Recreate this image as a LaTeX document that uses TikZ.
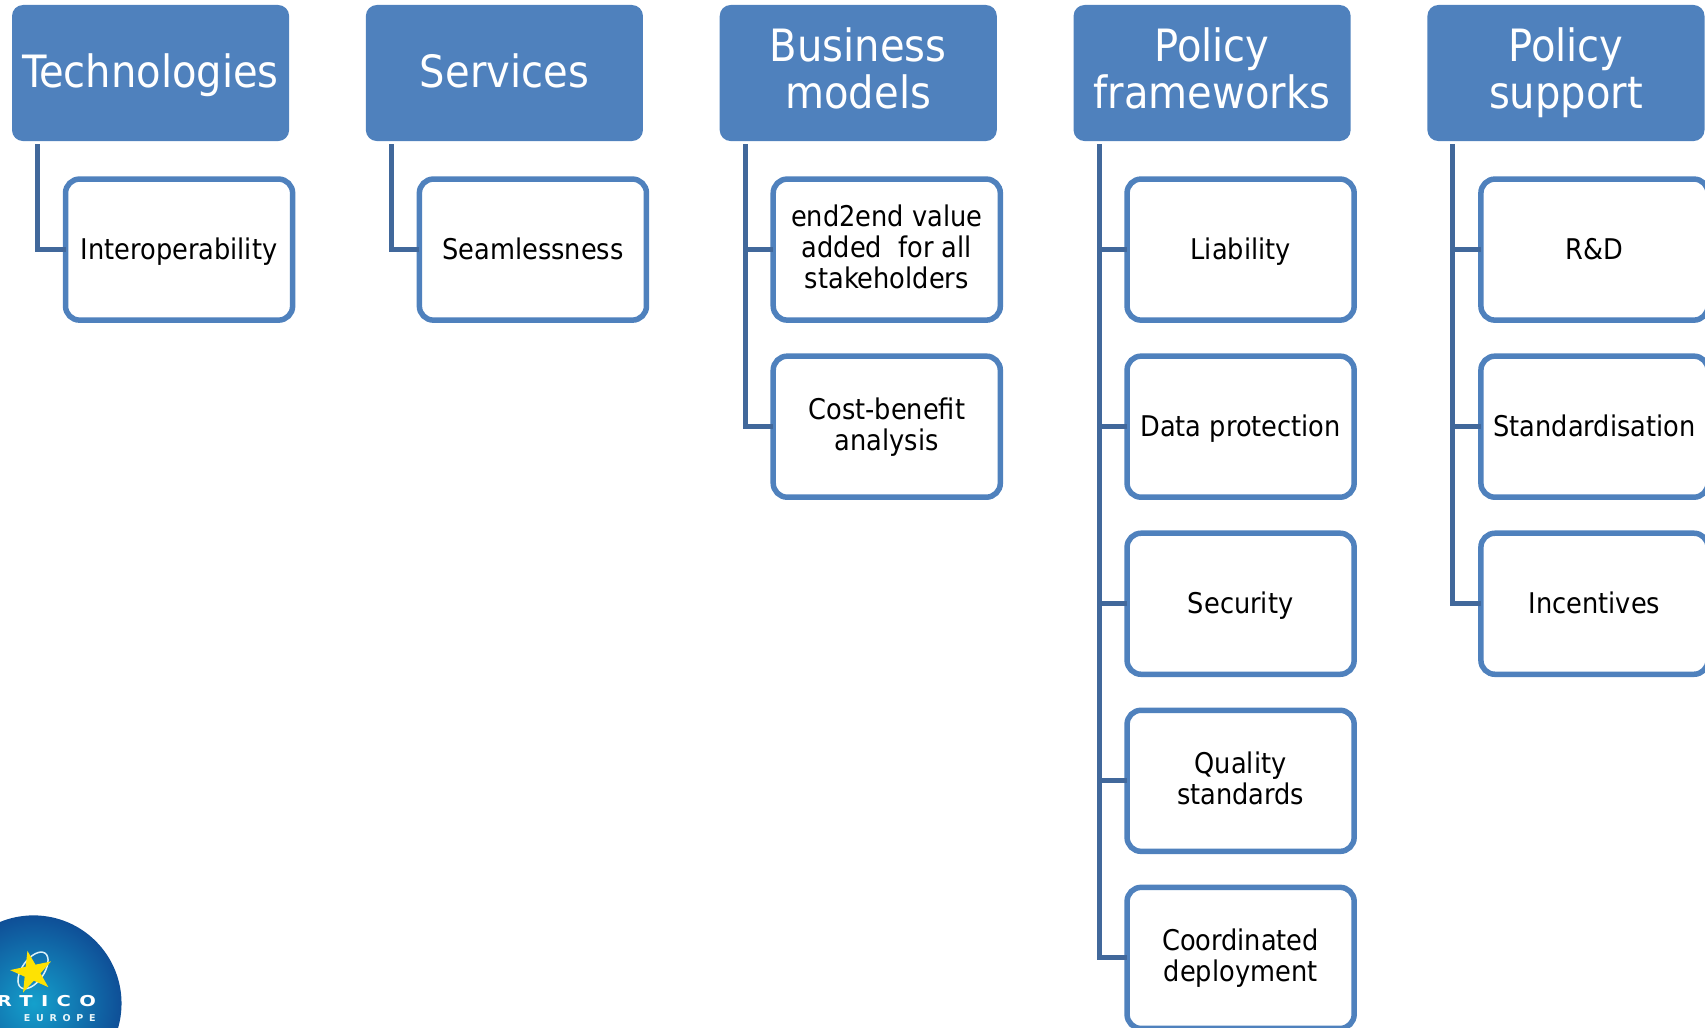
\documentclass[tikz,border=0pt]{standalone}
\usepackage{fontspec}
\setmainfont{DejaVu Sans Condensed}
\newfontfamily\logofont{DejaVu Sans}
\usetikzlibrary{shapes.geometric}

\definecolor{headblue}{HTML}{4F81BD}
\definecolor{spineblue}{HTML}{41689B}
\definecolor{logodark}{HTML}{0F4F97}
\definecolor{logocyan}{HTML}{14A0CC}

\tikzset{
  headbox/.style={rectangle, rounded corners=11, fill=headblue, text=white, align=center,
    minimum width=277, minimum height=136, font=\fontsize{44.5}{47}\selectfont,
    execute at begin node=\rule{0pt}{0.87em}, execute at end node=\vphantom{Ag}},
  headtwo/.style={headbox, execute at begin node=\rule{0pt}{0.99em}},
  childbox/.style={rectangle, rounded corners=14, draw=headblue, line width=5.5, fill=white, align=center,
    minimum width=227, minimum height=141, font=\fontsize{28.5}{31}\selectfont,
    execute at begin node=\rule{0pt}{0.9em}, execute at end node=\vphantom{Ag}},
  spine/.style={draw=spineblue, line width=5},
}

\begin{document}
\begin{tikzpicture}[x=1pt, y=-1pt, inner sep=0, outer sep=0]
  \useasboundingbox (0, 0) rectangle (1704.3, 1026.8);

  \node[headbox] (tech) at (150.5, 73) {Technologies};
  \node[headbox] (serv) at ([xshift=353.7]tech.center) {Services};
  \node[headtwo] (biz) at ([xshift=353.7]serv.center) {Business\\models};
  \node[headtwo] (frame) at ([xshift=353.7]biz.center) {Policy\\frameworks};
  \node[headtwo] (supp) at ([xshift=353.7]frame.center) {Policy\\support};

  \node[childbox] (interop) at ([xshift=28.5, yshift=-176.5]tech.center) {Interoperability};
  \node[childbox] (seam) at ([xshift=28.5, yshift=-176.5]serv.center) {Seamlessness};

  \node[childbox] (value) at ([xshift=28.5, yshift=-176.5]biz.center) {end2end value\\added\ \ for all\\stakeholders};
  \node[childbox] (cost) at ([yshift=-177]value.center) {Cost-benefit\\analysis};

  \node[childbox] (liab) at ([xshift=28.5, yshift=-176.5]frame.center) {Liability};
  \node[childbox] (data) at ([yshift=-177]liab.center) {Data protection};
  \node[childbox] (secu) at ([yshift=-177]data.center) {Security};
  \node[childbox] (qual) at ([yshift=-177]secu.center) {Quality\\standards};
  \node[childbox] (depl) at ([yshift=-177]qual.center) {Coordinated\\deployment};

  \node[childbox] (rnd) at ([xshift=28.5, yshift=-176.5]supp.center) {R\&D};
  \node[childbox] (stand) at ([yshift=-177]rnd.center) {Standardisation};
  \node[childbox] (incent) at ([yshift=-177]stand.center) {Incentives};

  \coordinate (techtop) at ([xshift=25.5, yshift=-3]tech.south west);
  \coordinate (servtop) at ([xshift=25.5, yshift=-3]serv.south west);
  \coordinate (biztop) at ([xshift=25.5, yshift=-3]biz.south west);
  \coordinate (frametop) at ([xshift=25.5, yshift=-3]frame.south west);
  \coordinate (supptop) at ([xshift=25.5, yshift=-3]supp.south west);

  \draw[spine] (techtop) |- (interop.west);
  \draw[spine] (servtop) |- (seam.west);
  \draw[spine] (biztop) |- (value.west);
  \draw[spine] (biztop) |- (cost.west);
  \draw[spine] (frametop) |- (liab.west);
  \draw[spine] (frametop) |- (data.west);
  \draw[spine] (frametop) |- (secu.west);
  \draw[spine] (frametop) |- (qual.west);
  \draw[spine] (frametop) |- (depl.west);
  \draw[spine] (supptop) |- (rnd.west);
  \draw[spine] (supptop) |- (stand.west);
  \draw[spine] (supptop) |- (incent.west);

  % logo
  \begin{scope}
    \clip (0, 0) rectangle (1705, 1029);
    \node[circle, minimum size=176, inner color=logocyan, outer color=logodark] (logo) at (33.5, 1003) {};
    \node[ellipse, draw=white!85!logocyan, line width=1.5, minimum width=42, minimum height=22, rotate=55] (ring) at (33, 970) {};
    \node[star, star points=5, star point ratio=2.6, fill=yellow!85!orange, minimum size=44, rotate=12] (spark) at (32, 972) {};
    \node[anchor=base east, text=white, xscale=1.3, font=\logofont\bfseries\fontsize{15}{15}\selectfont\addfontfeatures{LetterSpace=43}] (ertico) at (96, 1006) {RTICO};
    \node[anchor=base east, text=white!90!logocyan, font=\logofont\bfseries\fontsize{9.5}{10}\selectfont\addfontfeatures{LetterSpace=60}] (europe) at (95.5, 1021.5) {EUROPE};
  \end{scope}
\end{tikzpicture}
\end{document}
